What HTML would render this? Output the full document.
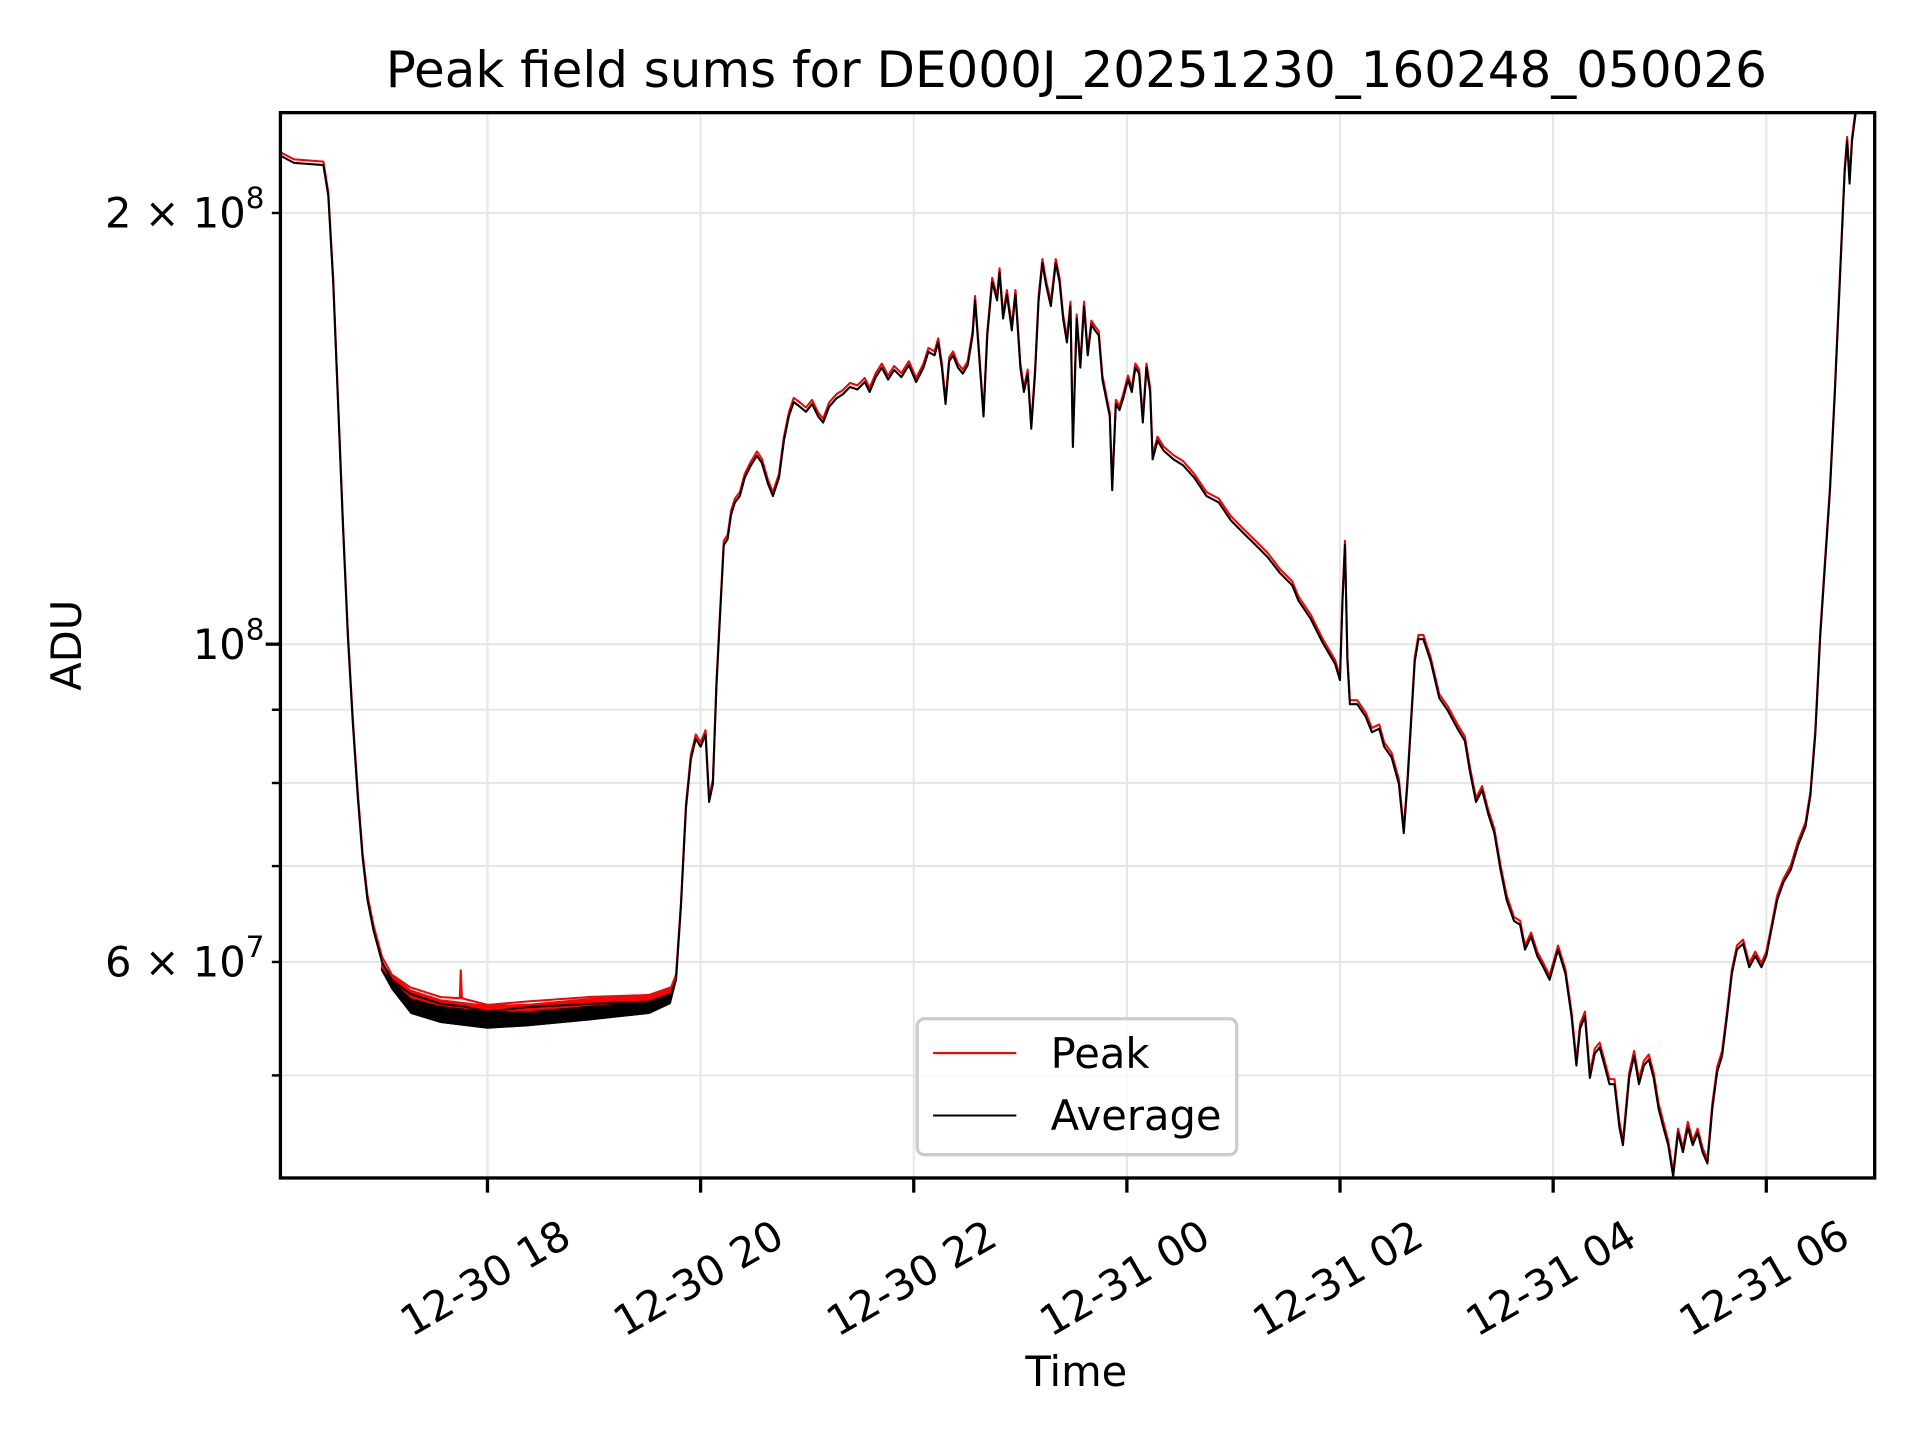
<!DOCTYPE html>
<html><head><meta charset="utf-8"><style>
html,body{margin:0;padding:0;background:#fff}
svg{display:block}
text{font-family:"DejaVu Sans","Liberation Sans",sans-serif;fill:#000}
</style></head><body>
<svg id="chart" width="1920" height="1440" viewBox="0 0 1568 1176" xmlns="http://www.w3.org/2000/svg">
<rect x="0" y="0" width="1568" height="1176" fill="#fff"/>
<g id="grid"></g>
<g id="series"></g>
<g id="axes"></g>
<text x="879" y="71" font-size="40.8" text-anchor="middle">Peak field sums for DE000J_20251230_160248_050026</text>
<text x="879" y="1132" font-size="34" text-anchor="middle">Time</text>
<text x="0" y="0" font-size="34" text-anchor="middle" transform="translate(66,527) rotate(-90)">ADU</text>
<g>
<rect x="749" y="832" width="261" height="111" rx="6" fill="#fff" fill-opacity="0.8" stroke="#cccccc" stroke-width="2.7"/>
<g>
<line x1="762" y1="860" x2="830" y2="860" stroke="#ff0000" stroke-width="1.7"/>
<text x="858" y="872" font-size="34">Peak</text></g>
<g>
<line x1="762" y1="911" x2="830" y2="911" stroke="#000" stroke-width="1.7"/>
<text x="858" y="923" font-size="34">Average</text></g>
</g>
</svg>
<script>
// time in hours since 12-30 00:00 ; values in millions of ADU
const times = [16.057,16.184,16.460,16.506,16.552,16.598,16.644,16.690,16.736,16.782,16.828,16.874,16.931,17.011,17.103,17.276,17.563,17.74,17.75,17.76,18.000,18.368,18.943,19.517,19.724,19.770,19.816,19.862,19.908,19.954,20.000,20.046,20.080,20.115,20.149,20.184,20.218,20.253,20.287,20.322,20.368,20.414,20.471,20.529,20.575,20.632,20.678,20.736,20.782,20.828,20.874,20.931,20.989,21.046,21.103,21.149,21.207,21.276,21.333,21.402,21.471,21.540,21.586,21.644,21.701,21.759,21.816,21.885,21.954,22.023,22.092,22.138,22.195,22.230,22.264,22.299,22.333,22.368,22.414,22.460,22.506,22.552,22.575,22.621,22.655,22.690,22.736,22.782,22.805,22.839,22.874,22.920,22.954,23.000,23.034,23.069,23.103,23.138,23.172,23.207,23.241,23.287,23.333,23.368,23.402,23.437,23.471,23.494,23.529,23.563,23.598,23.632,23.667,23.701,23.736,23.770,23.805,23.839,23.862,23.897,23.931,23.966,24.011,24.046,24.080,24.115,24.149,24.184,24.218,24.241,24.287,24.345,24.437,24.529,24.632,24.747,24.862,24.977,25.092,25.207,25.322,25.437,25.552,25.609,25.724,25.839,25.954,26.000,26.023,26.046,26.069,26.092,26.161,26.241,26.299,26.368,26.414,26.483,26.552,26.598,26.632,26.667,26.701,26.736,26.782,26.851,26.931,27.011,27.103,27.172,27.218,27.276,27.333,27.391,27.448,27.506,27.563,27.632,27.690,27.736,27.793,27.851,27.908,27.966,28.046,28.115,28.172,28.218,28.253,28.299,28.345,28.391,28.437,28.483,28.529,28.575,28.621,28.655,28.713,28.759,28.805,28.851,28.897,28.943,28.989,29.034,29.080,29.126,29.172,29.218,29.264,29.310,29.356,29.402,29.448,29.494,29.540,29.586,29.632,29.678,29.724,29.782,29.839,29.897,29.954,30.000,30.046,30.103,30.161,30.230,30.299,30.368,30.414,30.460,30.506,30.552,30.598,30.644,30.690,30.736,30.759,30.782,30.805,30.839];
const averageVals = [219.3,216.8,216.0,205.6,179.0,147.1,120.8,101.2,88.2,78.4,71.0,66.3,63.1,60.0,58.3,57.0,56.1,55.9,55.9,55.9,55.4,55.8,56.1,56.3,57.0,58.3,65.6,76.8,83.1,85.9,84.8,86.5,77.6,79.9,93.5,105.3,117.3,118.4,123.2,125.6,126.9,130.7,133.3,135.4,133.8,129.4,126.9,130.7,138.7,144.2,147.6,146.5,145.3,147.1,144.2,142.8,146.5,148.5,149.4,151.2,150.6,152.4,150.0,153.6,156.0,153.0,155.4,153.6,156.6,152.4,156.0,160.0,159.1,162.4,156.0,147.1,157.6,159.1,156.0,154.5,156.6,164.3,173.8,156.0,144.2,164.3,179.0,173.8,181.8,168.8,175.5,165.6,175.5,156.0,150.0,154.5,141.4,154.5,173.8,184.5,178.3,172.2,184.5,179.0,168.8,162.4,172.2,137.3,168.8,156.0,172.2,159.1,167.1,165.6,164.3,153.0,148.5,144.2,128.1,147.1,145.7,148.5,153.0,150.0,156.0,154.5,142.8,156.0,150.0,134.6,138.7,136.5,134.6,133.3,130.7,126.9,125.6,122.0,119.6,117.3,115.0,112.1,109.9,107.3,104.2,100.2,96.9,94.4,107.3,117.3,97.3,90.8,90.8,89.0,86.8,87.3,84.8,83.4,79.9,73.8,79.9,88.2,97.3,100.8,100.8,97.3,91.7,89.9,87.3,85.6,81.5,77.6,79.1,76.1,73.8,69.6,66.3,64.1,63.7,61.2,62.5,60.6,59.5,58.3,61.2,58.9,55.0,50.8,53.9,55.0,49.8,51.8,52.3,50.8,49.3,49.3,46.0,44.7,49.8,51.6,49.3,50.8,51.3,49.8,47.4,46.0,44.7,42.5,45.6,44.2,46.0,44.7,45.6,44.2,43.4,47.4,50.3,51.6,55.0,58.9,61.2,61.8,59.5,60.6,59.5,60.6,63.1,66.3,68.2,69.6,72.4,74.6,78.4,86.5,101.2,113.9,128.1,150.0,179.0,213.7,224.6,209.7,224.6,235.0];
const peakVals = [220.5,218.0,217.2,206.8,180.1,148.0,121.6,101.9,88.8,79.0,71.5,66.8,63.6,60.5,58.8,57.6,56.7,56.6,59.2,56.6,56.0,56.3,56.7,56.9,57.6,58.8,66.0,77.3,83.7,86.5,85.4,87.1,78.1,80.5,94.1,106.0,118.1,119.2,124.0,126.4,127.7,131.5,134.1,136.3,134.7,130.2,127.7,131.5,139.6,145.1,148.6,147.5,146.3,148.1,145.1,143.7,147.5,149.5,150.4,152.2,151.6,153.4,151.0,154.6,157.0,154.0,156.4,154.6,157.6,153.4,157.0,161.0,160.1,163.5,157.0,148.1,158.6,160.1,157.0,155.5,157.6,165.4,175.0,157.0,145.1,165.4,180.2,175.0,183.0,169.9,176.7,166.7,176.7,157.0,151.0,155.5,142.3,155.5,175.0,185.7,179.5,173.4,185.7,180.2,169.9,163.5,173.4,138.2,169.9,157.0,173.4,160.1,168.2,166.7,165.4,154.0,149.5,145.1,128.9,148.1,146.6,149.5,154.0,151.0,157.0,155.5,143.7,157.0,151.0,135.5,139.6,137.4,135.5,134.2,131.5,127.7,126.4,122.8,120.4,118.1,115.8,112.8,110.6,108.0,104.9,100.8,97.5,95.0,108.0,118.1,97.9,91.4,91.4,89.6,87.4,87.9,85.4,84.0,80.5,74.3,80.5,88.8,97.9,101.5,101.5,97.9,92.3,90.5,87.9,86.2,82.1,78.1,79.6,76.6,74.3,70.1,66.8,64.5,64.1,61.6,62.9,61.0,59.9,58.7,61.6,59.3,55.4,51.2,54.3,55.4,50.2,52.2,52.7,51.2,49.7,49.7,46.4,45.0,50.2,52.0,49.7,51.2,51.7,50.2,47.8,46.4,45.0,42.8,45.9,44.5,46.4,45.0,45.9,44.5,43.7,47.8,50.7,52.0,55.4,59.3,61.6,62.2,59.9,61.0,59.9,61.0,63.5,66.8,68.6,70.1,72.9,75.1,78.9,87.1,101.9,114.7,128.9,151.0,180.2,215.1,226.0,211.1,226.0,236.6];
// noise band in the flat low section
const bandTimes = [17.0,17.1,17.28,17.56,18.0,18.37,18.94,19.52,19.72,19.77];
const peakBandHigh = [59.9,58.9,57.4,56.5,56.0,56.1,56.6,57.0,57.7,58.9];
const avgBandHigh = [59.5,58.3,56.6,55.9,55.4,55.4,55.9,56.3,57.0,58.3];
const avgBandLow = [59.2,57.4,55.2,54.4,53.9,54.1,54.6,55.2,56.1,58.0];
const xTickHours = [18,20,22,24,26,28,30];
const xTickLabels = ["12-30 18","12-30 20","12-30 22","12-31 00","12-31 02","12-31 04","12-31 06"];
const yMinorTicks = [50,60,70,80,90,200];
const yMajorTicks = [100];

const X0=229,X1=1531,Y0=92,Y1=962;
const tMin=16.057,tMax=31.0172;
const lvMin=Math.log10(42.4),lvMax=Math.log10(235.0);
function sx(t){return X0+(t-tMin)/(tMax-tMin)*(X1-X0);}
function sy(v){return Y1-(Math.log10(v)-lvMin)/(lvMax-lvMin)*(Y1-Y0);}
const NS="http://www.w3.org/2000/svg";
function mk(tag,parent,attrs){const e=document.createElementNS(NS,tag);for(const k in attrs)e.setAttribute(k,attrs[k]);parent.appendChild(e);return e;}
const grid=document.getElementById('grid'),series=document.getElementById('series'),axes=document.getElementById('axes');

xTickHours.forEach((h,i)=>{
  const x=sx(h);
  const g=mk('line',grid,{x1:x,x2:x,y1:Y0,y2:Y1,stroke:'#e6e6e6','stroke-width':1.7});
  
  
  const t=mk('line',axes,{x1:x,x2:x,y1:Y1,y2:Y1+12,stroke:'#000','stroke-width':2.7});
  
  
  const lb=mk('text',axes,{x:0,y:0,'font-size':34,'text-anchor':'middle',transform:`translate(${x+4},${1054}) rotate(-30)`});
  lb.textContent=xTickLabels[i];
  
  
});
yMinorTicks.concat(yMajorTicks).forEach(v=>{
  const y=sy(v);
  const g=mk('line',grid,{x1:X0,x2:X1,y1:y,y2:y,stroke:'#e6e6e6','stroke-width':1.7});
  
  
  const major=yMajorTicks.includes(v);
  const t=mk('line',axes,{x1:X0-(major?12:7),x2:X0,y1:y,y2:y,stroke:'#000','stroke-width':major?2.7:2});
  
  
});
function yLabel(v,pre,exp){
  const y=sy(v);
  const t=mk('text',axes,{x:216,y:y+12,'font-size':34,'text-anchor':'end'});
  
  
  const a=mk('tspan',t,{});a.textContent=pre+'10';
  const b=mk('tspan',t,{'font-size':24,dy:-16});b.textContent=exp;
}
yLabel(200,'2 \u00d7 ','8');yLabel(100,'','8');yLabel(60,'6 \u00d7 ','7');

function bandPath(hi,lo){
  let d='';bandTimes.forEach((t,i)=>{d+=(i?'L':'M')+sx(t).toFixed(1)+','+sy(hi[i]).toFixed(1);});
  for(let i=bandTimes.length-1;i>=0;i--)d+='L'+sx(bandTimes[i]).toFixed(1)+','+sy(lo[i]).toFixed(1);
  return d+'Z';
}
const rb=mk('path',series,{d:bandPath(peakBandHigh,avgBandLow),fill:'#ff0000'});


function linePath(vals){return vals.map((v,i)=>(i?'L':'M')+sx(times[i]).toFixed(1)+','+sy(v).toFixed(1)).join('');}
const pl=mk('path',series,{d:linePath(peakVals),fill:'none',stroke:'#ff0000','stroke-width':1.7,'stroke-linejoin':'round'});


const ab=mk('path',series,{d:bandPath(avgBandHigh,avgBandLow),fill:'#000'});


const al=mk('path',series,{d:linePath(averageVals),fill:'none',stroke:'#000','stroke-width':1.7,'stroke-linejoin':'round'});



const frame=mk('rect',axes,{x:X0,y:Y0,width:X1-X0,height:Y1-Y0,fill:'none',stroke:'#000','stroke-width':2.7});


const defs=mk('defs',document.getElementById('chart'),{});
const cp=mk('clipPath',defs,{id:'pc'});mk('rect',cp,{x:X0,y:Y0,width:X1-X0,height:Y1-Y0});
series.setAttribute('clip-path','url(#pc)');
</script>
</body></html>
